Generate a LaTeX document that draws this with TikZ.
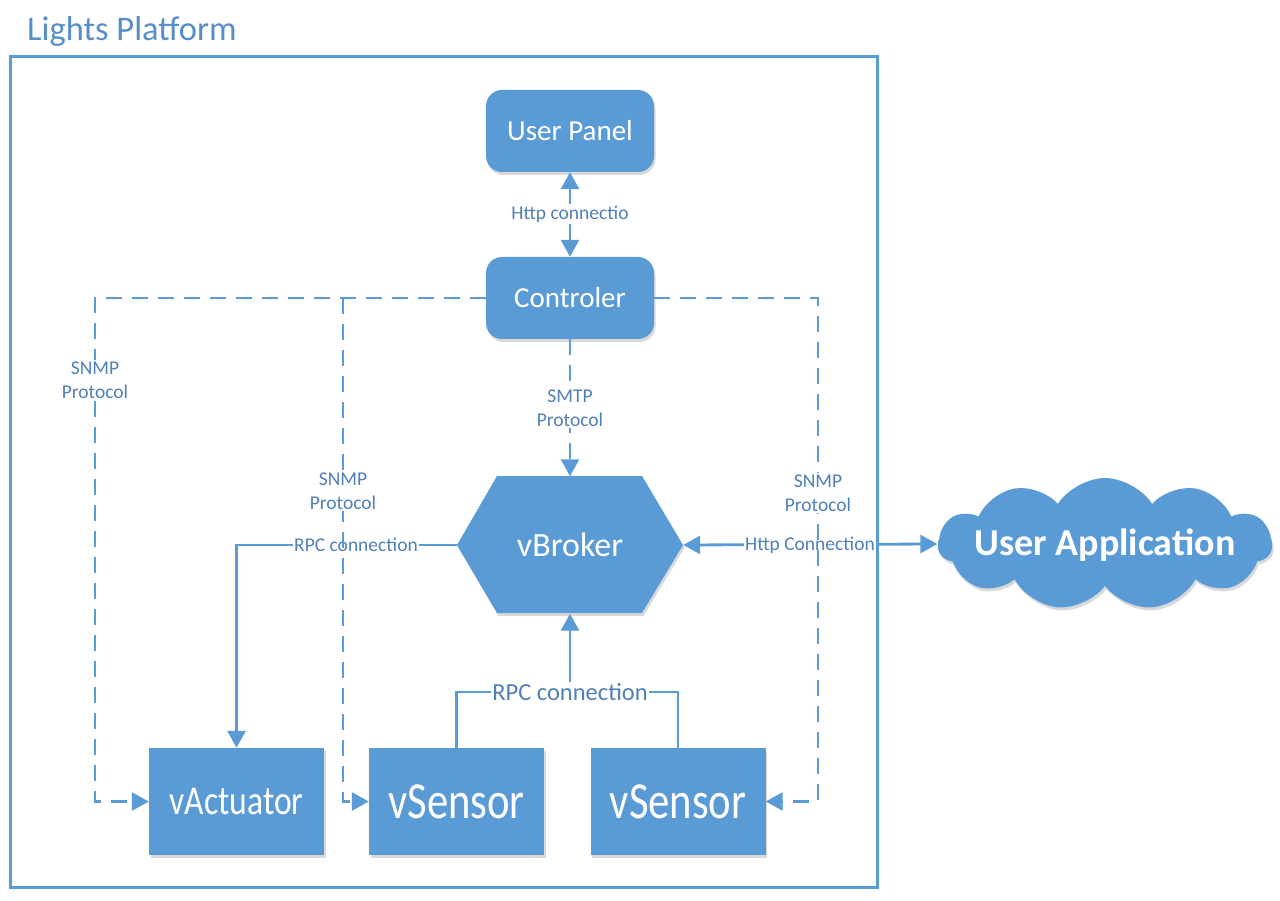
\documentclass[tikz,border=0pt]{standalone}
\usepackage{fontspec}
\setmainfont{Carlito}
\usetikzlibrary{arrows.meta,shapes.symbols,shadows,calc}
\definecolor{bl}{RGB}{91,155,213}
\definecolor{lbl}{RGB}{80,128,184}
\definecolor{ttl}{RGB}{86,142,204}
\begin{document}
\begin{tikzpicture}[x=1pt,y=-1pt,
  shd/.style={drop shadow={shadow xshift=1.5pt,shadow yshift=-3pt,opacity=0.15,fill=black}},
  box/.style={fill=bl, text=white, inner sep=0pt, shd},
  rbox/.style={box, rounded corners=16pt, minimum width=168pt, minimum height=82pt, font=\fontsize{29}{34}\selectfont},
  sq/.style={box, minimum width=175pt, minimum height=107pt},
  conn/.style={draw=bl, line width=2.8pt},
  dconn/.style={conn, dash pattern=on 16pt off 10pt},
  tip/.style={-{Triangle[length=17pt,width=18pt]}},
  tips/.style={{Triangle[length=17pt,width=18pt]}-{Triangle[length=17pt,width=18pt]}},
  lab/.style={text=lbl, fill=white, inner sep=1.5pt, font=\fontsize{19.5}{23.5}\selectfont, align=center},
]
\useasboundingbox (0,0) rectangle (1280,901);

% title
\node[anchor=west, text=ttl, inner sep=0pt, font=\fontsize{34.5}{40}\selectfont] (title) at (27,31) {Lights Platform};

% nodes
\node[rbox] (up) at (570,131) {User Panel};
\node[rbox] (ctl) at (570,298) {Controler};
\fill[bl, shd] (457,545) -- (497,476) -- (642,476) -- (683,545) -- (642,613) -- (497,613) -- cycle;
\node[text=white, inner sep=0pt, minimum width=226pt, minimum height=137pt, font=\fontsize{34}{40}\selectfont] (vb) at (570,545) {vBroker};
\node[sq, font=\fontsize{41}{48}\selectfont] (va) at (236.5,801.5) {\scalebox{0.82}[1]{vActuator}};
\node[sq, font=\fontsize{52}{60}\selectfont] (vs1) at (456.5,801.5) {\scalebox{0.82}[1]{vSensor}};
\node[sq, font=\fontsize{52}{60}\selectfont] (vs2) at (678,801.5) {\scalebox{0.82}[1]{vSensor}};
\node[cloud, cloud puffs=11, cloud puff arc=115, aspect=2.6, fill=bl, shd, minimum width=334pt, minimum height=132pt, inner sep=0pt] (ua) at (1105,544) {};
\node[text=white, inner sep=0pt, font=\bfseries\fontsize{38}{44}\selectfont] (uat) at (1105,545) {User Application};

% solid connectors
\draw[conn, tips] (up.south) -- (ctl.north);
\node[lab] (l1) at (570,214) {Http connectio};
\draw[conn, tip] (vb.west) -- (vb.west -| va.north) -- (va.north);
\node[lab] (l2) at (356,545) {RPC connection};
\draw[conn, tips] (vb.east) -- (ua.west);
\node[lab] (l3) at (810,545) {Http Connection};
\coordinate (rj) at (570,692);
\draw[conn] (vs1.north) |- (rj) -| (vs2.north);
\draw[conn, tip] (rj) -- (vb.south);
\node[lab, font=\fontsize{24.5}{29}\selectfont, inner sep=1pt] (l4) at (rj) {RPC connection};

% dashed connectors
\coordinate (jm) at (343,298);
\draw[dconn, tip] (ctl.west) -- (95,298) -- (95,801.5) -- (va.west);
\draw[dconn, tip] (jm) -- (343,801.5) -- (vs1.west);
\draw[dconn, tip] (ctl.east) -- (818,298) -- (818,801.5) -- (vs2.east);
\draw[dconn, tip] (ctl.south) -- (vb.north);
\node[lab] (s1) at (95,380) {SNMP\\Protocol};
\node[lab] (s2) at (343,491) {SNMP\\Protocol};
\node[lab] (s3) at (818,493) {SNMP\\Protocol};
\node[lab] (s4) at (570,408) {SMTP\\Protocol};

% frame
\node[draw=bl, line width=3pt, minimum width=867pt, minimum height=830pt, inner sep=0pt] (frame) at (443.5,472) {};
\end{tikzpicture}
\end{document}
